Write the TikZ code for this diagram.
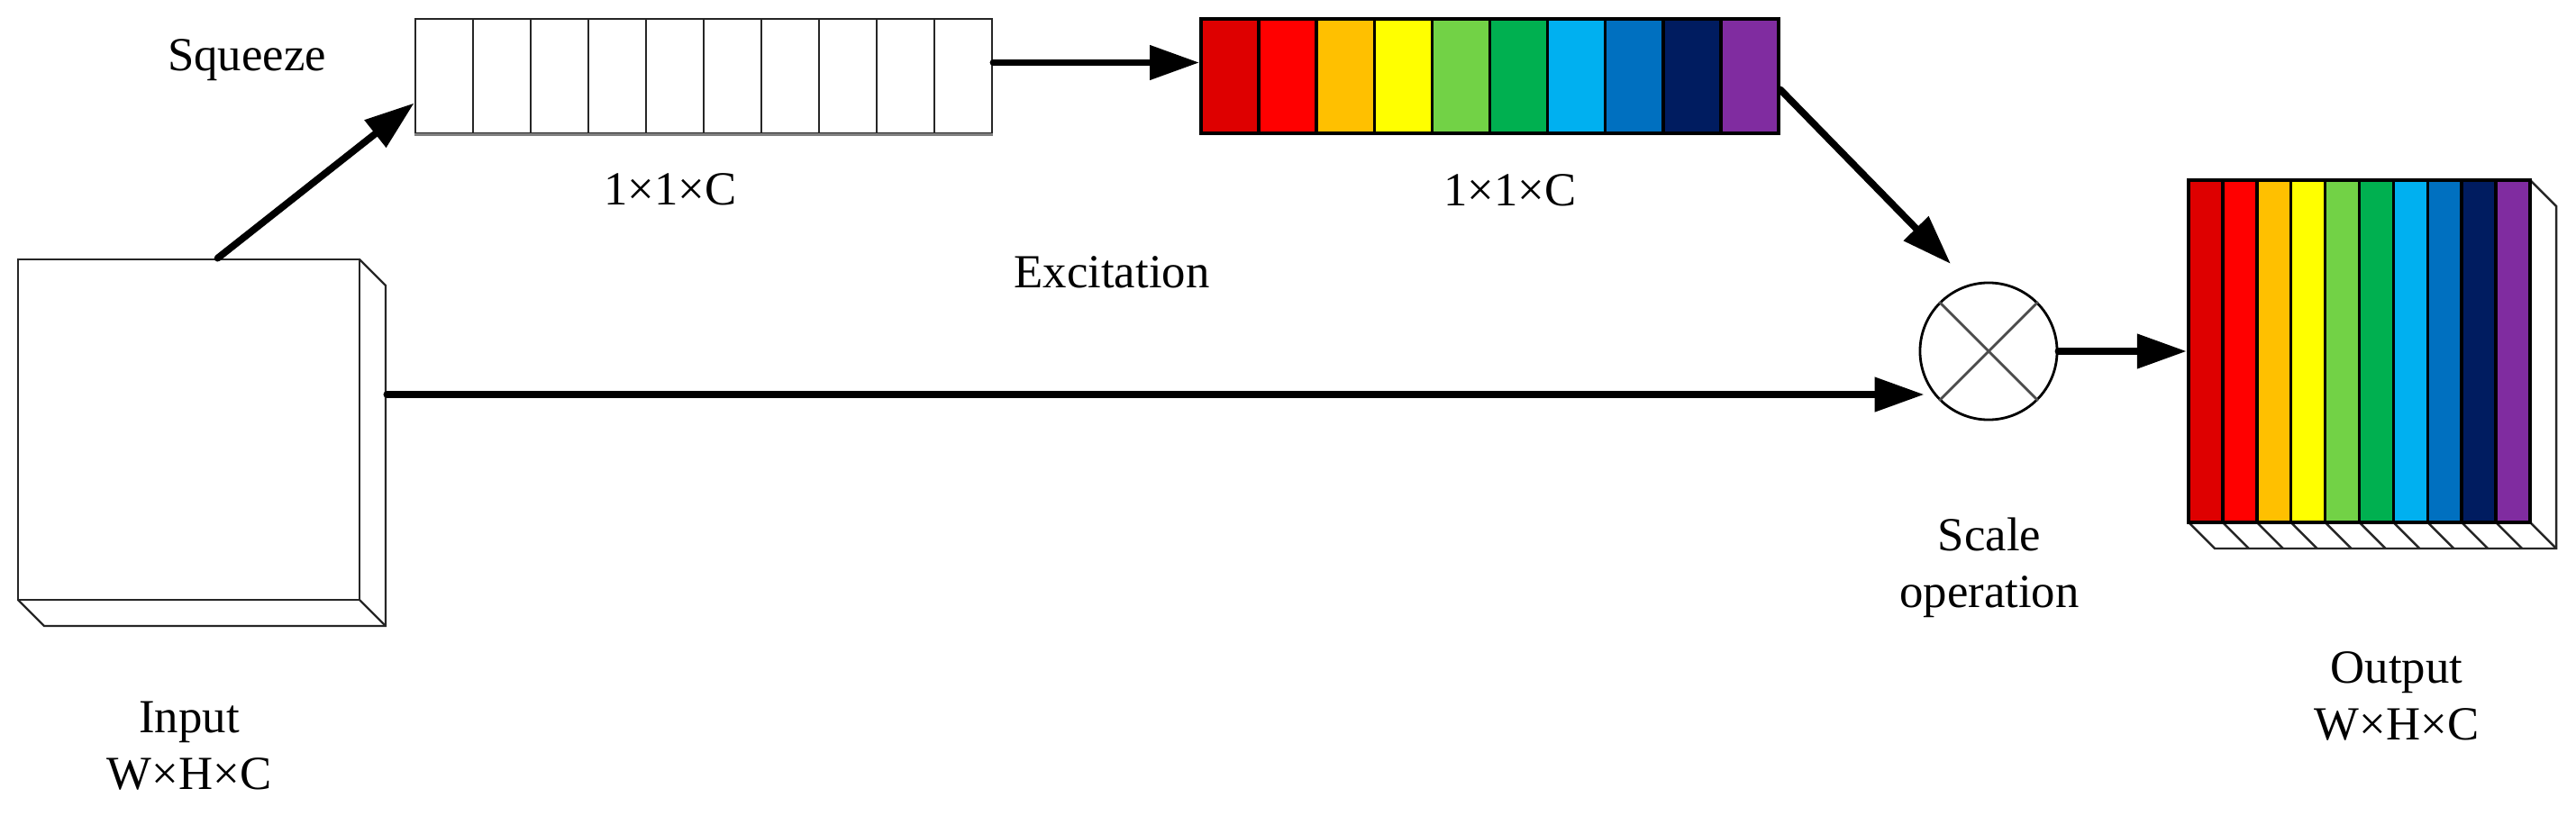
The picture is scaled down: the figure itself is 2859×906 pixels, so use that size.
\documentclass[tikz,border=0pt]{standalone}
\usepackage{fontspec}
\setmainfont{Liberation Serif}
\usetikzlibrary{positioning, arrows.meta}
\definecolor{DarkRed}{RGB}{222, 0, 0}
\definecolor{PureRed}{RGB}{255, 0, 0}
\definecolor{Amber}{RGB}{255, 192, 0}
\definecolor{BrightYellow}{RGB}{255, 255, 0}
\definecolor{LeafGreen}{RGB}{114, 210, 70}
\definecolor{MidGreen}{RGB}{0, 176, 80}
\definecolor{SkyBlue}{RGB}{0, 176, 240}
\definecolor{MidBlue}{RGB}{0, 112, 192}
\definecolor{NavyBlue}{RGB}{0, 28, 96}
\definecolor{Violet}{RGB}{128, 44, 160}

\begin{document}
\begin{tikzpicture}[x=0.01cm, y=-0.01cm, font=\fontsize{15}{18}\selectfont,
    cubeline/.style={line width=0.7pt, draw=black!85},
    flow/.style={-{Triangle[length=0.55cm, width=0.37cm]}, line width=2.2pt, line cap=round}]
    \useasboundingbox (0,0) rectangle (2859,906);

    % Input cube
    \draw[cubeline] (20,666) -- (49,695) -- (428,695) -- (428,317) -- (399,288);
    \draw[cubeline] (399,666) -- (428,695);
    \node[draw, cubeline, fill=white, inner sep=0pt, minimum width=3.79cm, minimum height=3.78cm] (input) at (209.5,477) {};

    % Squeeze vector
    \node[draw, cubeline, inner sep=0pt, minimum width=6.4cm, minimum height=1.27cm] (squeeze) at (781,84.5) {};
    \foreach \i in {1,...,9}
        \draw[cubeline] (461+\i*64,21) -- (461+\i*64,148);
    \draw[black!50, line width=1pt] (squeeze.south west) -- (squeeze.south east);

    % Excitation vector
    \foreach \c [count=\i from 0] in {DarkRed,PureRed,Amber,BrightYellow,LeafGreen,MidGreen,SkyBlue,MidBlue,NavyBlue,Violet}
        \fill[\c] (1333+\i*64.1,21) rectangle +(64.1,127);
    \foreach \i in {1,...,9}
        \draw[line width=1pt] (1333+\i*64.1,21) -- +(0,127);
    \node[draw, line width=1pt, inner sep=0pt, minimum width=6.41cm, minimum height=1.27cm] (excite) at (1653.5,84.5) {};

    % Output cube
    \draw[cubeline] (2808,200) -- (2837,229) -- (2837,609) -- (2458,609) -- (2429,580);
    \foreach \i in {1,...,10}
        \draw[cubeline] (2429+\i*37.9,580) -- +(29,29);
    \foreach \c [count=\i from 0] in {DarkRed,PureRed,Amber,BrightYellow,LeafGreen,MidGreen,SkyBlue,MidBlue,NavyBlue,Violet}
        \fill[\c] (2429+\i*37.9,200) rectangle +(37.9,380);
    \foreach \i in {1,...,9}
        \draw[line width=1pt] (2429+\i*37.9,200) -- +(0,380);
    \node[draw, line width=1.2pt, inner sep=0pt, minimum width=3.79cm, minimum height=3.8cm] (output) at (2618.5,390) {};

    % Scale operation
    \node[draw, circle, line width=0.8pt, minimum size=1.52cm, inner sep=0pt] (scale) at (2207,390) {};
    \draw[line width=0.8pt, black!70] (scale.north west) -- (scale.south east)
        (scale.north east) -- (scale.south west);

    % Arrows
    \draw[flow] ([xshift=0.32cm]input.north) -- ([yshift=-0.3cm]squeeze.west);
    \draw[flow] ([yshift=0.15cm]squeeze.east) -- ([yshift=0.15cm]excite.west);
    \draw[flow] ([yshift=-0.15cm]excite.east) -- ([xshift=-0.42cm, yshift=0.97cm]scale.center);
    \draw[flow] ([xshift=0.29cm, yshift=0.39cm]input.east) -- ([xshift=0.06cm, yshift=-0.48cm]scale.west);
    \draw[flow] (scale.east) -- (output.west);

    % Labels
    \node[anchor=base] (sqtext) at (274,78) {Squeeze};
    \node (sqdim) at (744,210) {1×1×C};
    \node (exdim) at (1676,211) {1×1×C};
    \node (extext) at (1234,302) {Excitation};
    \node[align=center] (scaletext) at (2208,630) {Scale\\operation};
    \node[align=center] (intext) at (210,828) {Input\\W×H×C};
    \node[align=center] (outtext) at (2660,773) {Output\\W×H×C};
\end{tikzpicture}
\end{document}
